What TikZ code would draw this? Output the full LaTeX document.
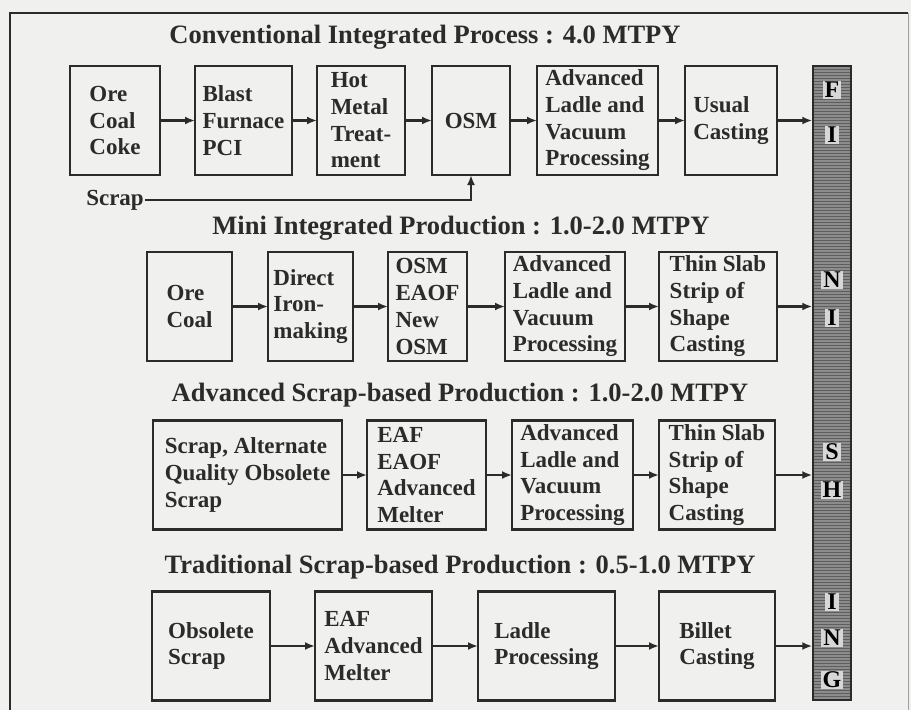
\documentclass[tikz,border=0pt]{standalone}
\usepackage{fontspec}
\setmainfont{Liberation Serif}
\usepackage{xcolor}
\definecolor{inkGray}{HTML}{2B2B2B}
\definecolor{paperTone}{HTML}{F0F0EE}
\definecolor{barGray}{HTML}{8C8C8C}
\definecolor{barLine}{HTML}{5E5E5E}
\definecolor{frameGray}{HTML}{A0A0A0}
\usepackage{tikz}
\usetikzlibrary{
    arrows.meta,
    positioning
}
\tikzset{
    % Base style for all process boxes
    stage/.style={
        rectangle,
        draw=inkGray,
        line width=2.4pt,
        align=left,
        text=inkGray,
        font=\bfseries\fontsize{23}{26.7}\selectfont,
        minimum height=109pt,
        inner xsep=4pt,
        inner ysep=2pt,
        outer sep=0pt,
    },
    % Loose text beside the boxes
    tag/.style={
        text=inkGray,
        font=\bfseries\fontsize{23}{26.7}\selectfont,
        inner sep=1pt,
    },
    % Row headings
    heading/.style={
        text=inkGray,
        font=\bfseries\fontsize{26.5}{30}\selectfont,
        inner sep=0pt,
    },
    % Letters on the finishing bar
    letter/.style={
        text=black,
        font=\bfseries\fontsize{24}{26}\selectfont,
        fill=barGray!35,
        inner xsep=2pt,
        inner ysep=1pt,
    },
    % Flow arrow
    arrow/.style={
        -{Latex[length=10pt, width=8pt]},
        line width=2.4pt,
        draw=inkGray,
    },
}

\begin{document}
\begin{tikzpicture}[x=1pt, y=-1pt]
    \useasboundingbox (0,0) rectangle (911,710);
    \fill[paperTone] (0,0) rectangle (911,710);
    \draw[line width=2pt, inkGray] (10,710) -- (10,13) -- (908,13);
    \draw[line width=1pt, frameGray] (908,13) -- (908,710);

    \node (bar) [draw=inkGray, line width=1.5pt, fill=barGray, minimum width=38pt, minimum height=634pt, inner sep=0pt] at (832,383) {};
    \foreach \yy in {69,72,...,698}
        \draw[barLine, line width=0.7pt] (814,\yy) -- (850,\yy);
    \foreach \ch/\yy in {F/90, I/135, N/280, I/318, S/452, H/490, I/602, N/638, G/680}
        \node (fin\yy) [letter] at (832,\yy) {\ch};

    \node (title1) [heading] at (425,37) {Conventional Integrated Process : 4.0 MTPY};
    \node (ore1) [stage, minimum width=90pt, anchor=west] at (70,120.5) {Ore\\Coal\\Coke};
    \node (blast) [stage, minimum width=97pt, right=35pt of ore1] {Blast\\Furnace\\PCI};
    \node (hotmetal) [stage, minimum width=88pt, right=25pt of blast] {Hot\\Metal\\Treat-\\ment};
    \node (osm1) [stage, minimum width=78pt, right=27pt of hotmetal] {OSM};
    \node (ladle1) [stage, minimum width=121pt, right=27pt of osm1] {Advanced\\Ladle and\\Vacuum\\Processing};
    \node (cast1) [stage, minimum width=92pt, right=27pt of ladle1] {Usual\\Casting};
    \node (scrap1) [tag] at (115,200) {Scrap};

    \draw [arrow] (ore1) -- (blast);
    \draw [arrow] (blast) -- (hotmetal);
    \draw [arrow] (hotmetal) -- (osm1);
    \draw [arrow] (osm1) -- (ladle1);
    \draw [arrow] (ladle1) -- (cast1);
    \draw [arrow] (cast1) -- (cast1 -| bar.west);
    \draw [arrow] (scrap1) -| (osm1);

    \node (title2) [heading] at (461,228) {Mini Integrated Production : 1.0-2.0 MTPY};
    \node (ore2) [stage, minimum width=85pt, anchor=west] at (147,306.5) {Ore\\Coal};
    \node (direct) [stage, minimum width=85pt, right=36pt of ore2] {Direct\\Iron-\\making};
    \node (osm2) [stage, minimum width=79pt, right=35pt of direct] {OSM\\EAOF\\New\\OSM};
    \node (ladle2) [stage, minimum width=120pt, right=38pt of osm2] {Advanced\\Ladle and\\Vacuum\\Processing};
    \node (cast2) [stage, minimum width=118pt, right=34pt of ladle2] {Thin Slab\\Strip of\\Shape\\Casting};

    \draw [arrow] (ore2) -- (direct);
    \draw [arrow] (direct) -- (osm2);
    \draw [arrow] (osm2) -- (ladle2);
    \draw [arrow] (ladle2) -- (cast2);
    \draw [arrow] (cast2) -- (cast2 -| bar.west);

    \node (title3) [heading] at (460,395) {Advanced Scrap-based Production : 1.0-2.0 MTPY};
    \node (scrap3) [stage, minimum width=189pt, anchor=west] at (153,475) {Scrap, Alternate\\Quality Obsolete\\Scrap};
    \node (eaf3) [stage, minimum width=119pt, right=25pt of scrap3] {EAF\\EAOF\\Advanced\\Melter};
    \node (ladle3) [stage, minimum width=121pt, right=26pt of eaf3] {Advanced\\Ladle and\\Vacuum\\Processing};
    \node (cast3) [stage, minimum width=116pt, right=26pt of ladle3] {Thin Slab\\Strip of\\Shape\\Casting};

    \draw [arrow] (scrap3) -- (eaf3);
    \draw [arrow] (eaf3) -- (ladle3);
    \draw [arrow] (ladle3) -- (cast3);
    \draw [arrow] (cast3) -- (cast3 -| bar.west);

    \node (title4) [heading] at (460,567) {Traditional Scrap-based Production : 0.5-1.0 MTPY};
    \node (scrap4) [stage, minimum width=118pt, anchor=west] at (152,646) {Obsolete\\Scrap};
    \node (eaf4) [stage, minimum width=117pt, right=45pt of scrap4] {EAF\\Advanced\\Melter};
    \node (ladle4) [stage, minimum width=137pt, right=46pt of eaf4] {Ladle\\Processing};
    \node (cast4) [stage, minimum width=116pt, right=44pt of ladle4] {Billet\\Casting};

    \draw [arrow] (scrap4) -- (eaf4);
    \draw [arrow] (eaf4) -- (ladle4);
    \draw [arrow] (ladle4) -- (cast4);
    \draw [arrow] (cast4) -- (cast4 -| bar.west);
\end{tikzpicture}
\end{document}
